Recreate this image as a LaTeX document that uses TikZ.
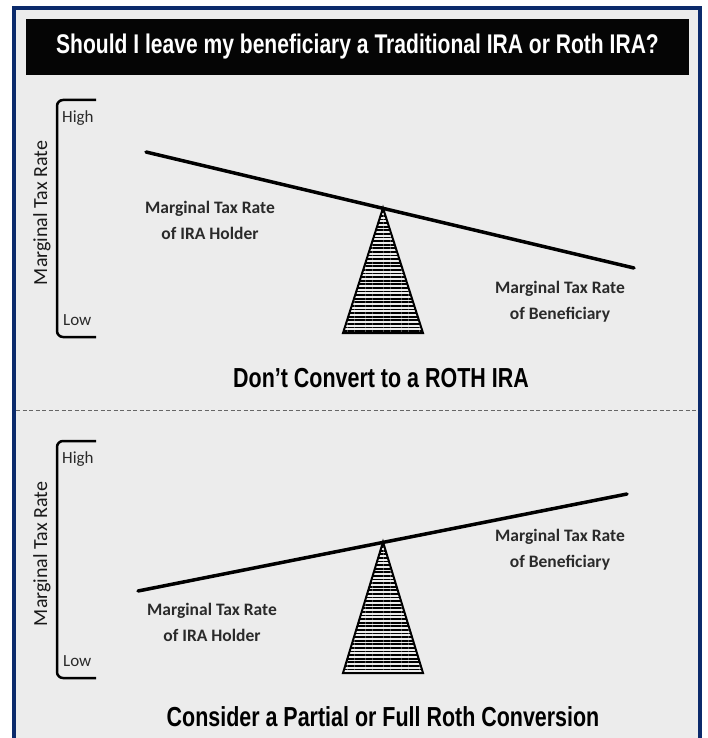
\documentclass[tikz,border=0pt]{standalone}
\usepackage{fontspec}
\setmainfont{Carlito}
\newfontfamily\headfont[FakeStretch=0.78]{Liberation Sans}
\usetikzlibrary{%
    calc,
    patterns.meta,
    positioning
}
\definecolor{framenavy}{HTML}{0B2A6B}
\definecolor{panelgrey}{HTML}{ECECEC}
\definecolor{labelgrey}{HTML}{2A2A2A}
\tikzset{
    beam/.style      = {line width=3.5pt, line cap=round},
    fulcrum/.style   = {draw, line width=2pt, line join=miter,
                        pattern={Lines[angle=0, distance=3.6pt, line width=1.8pt]}},
    axisbrace/.style = {line width=2.5pt, rounded corners=6pt},
    ratelabel/.style = {font=\bfseries\fontsize{17.5}{26}\selectfont, text=labelgrey, align=center},
    levellabel/.style= {font=\fontsize{17}{18}\selectfont, text=labelgrey, anchor=west, inner sep=0pt},
    axislabel/.style = {font=\fontsize{20}{22}\selectfont, text=black!90, rotate=90, inner sep=0pt},
    caption/.style   = {font=\headfont\bfseries\fontsize{27.5}{30}\selectfont, inner sep=0pt},
    headline/.style  = {font=\headfont\bfseries\fontsize{27}{30}\selectfont, text=white, inner sep=0pt}
}

\begin{document}
\begin{tikzpicture}[x=1pt, y=-1pt]
    \useasboundingbox (0,0) rectangle (708,738);
    \draw[framenavy, line width=3.5pt, fill=panelgrey] (14,8) rectangle (700,760);
    \fill[black!98] (26,19) rectangle (689,75);
    \node[headline] (title) at (357.5,47) {Should I leave my beneficiary a Traditional IRA or Roth IRA?};

    \draw[gray!80!black, line width=1pt, dash pattern=on 4pt off 2.5pt] (16,410) -- (698,410);

    \foreach \p/\top in {0/100, 1/441} {
        \draw[axisbrace] (96,\top) -- (57,\top) -- (57,{\top+237}) -- (96,{\top+237});
        \node[levellabel] (high-\p) at (62,{\top+18}) {High};
        \node[levellabel] (low-\p)  at (63,{\top+220}) {Low};
        \node[axislabel]  (axis-\p) at (42,{\top+113}) {Marginal Tax Rate};
    }

    \coordinate (beam-0-l) at (146,152);
    \coordinate (beam-0-r) at (634,268);
    \coordinate (apex-0)   at (383,208);
    \coordinate (base-0-l) at (343,333);
    \coordinate (base-0-r) at (423,333);
    \draw[fulcrum] (apex-0) -- (base-0-l) -- (base-0-r) -- cycle;
    \draw[beam] (beam-0-l) -- (beam-0-r);
    \node[ratelabel] (holder-0) at (210,220) {Marginal Tax Rate\\of IRA Holder};
    \node[ratelabel] (benef-0)  at (560,302) {Marginal Tax Rate\\of Beneficiary};
    \node[caption]   (verdict-0) at (381,378) {Don’t Convert to a ROTH IRA};

    \coordinate (beam-1-l) at (138,591);
    \coordinate (beam-1-r) at (627,494);
    \coordinate (apex-1)   at (383,542);
    \coordinate (base-1-l) at (343,673);
    \coordinate (base-1-r) at (423,673);
    \draw[fulcrum] (apex-1) -- (base-1-l) -- (base-1-r) -- cycle;
    \draw[beam] (beam-1-l) -- (beam-1-r);
    \node[ratelabel] (holder-1) at (212,622) {Marginal Tax Rate\\of IRA Holder};
    \node[ratelabel] (benef-1)  at (560,550) {Marginal Tax Rate\\of Beneficiary};
    \node[caption]   (verdict-1) at (383,717) {Consider a Partial or Full Roth Conversion};
\end{tikzpicture}
\end{document}
